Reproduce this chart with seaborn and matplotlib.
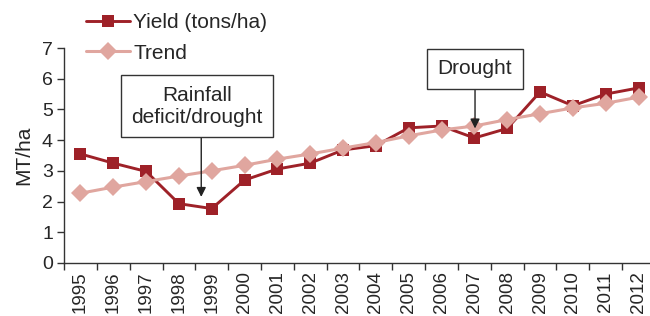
import matplotlib
matplotlib.use("Agg")
import matplotlib.pyplot as plt
import numpy as np
import pandas as pd
import seaborn as sns

years = [str(y) for y in range(1995, 2013)]
yield_vals = [3.55, 3.25, 2.98, 1.93, 1.77, 2.70, 3.06, 3.25, 3.68, 3.82,
              4.40, 4.46, 4.07, 4.38, 5.57, 5.12, 5.50, 5.70]
trend_vals = [2.27, 2.47, 2.65, 2.83, 3.00, 3.18, 3.38, 3.55, 3.74, 3.92,
              4.14, 4.33, 4.46, 4.67, 4.86, 5.05, 5.20, 5.40]

yield_color = "#9e2128"
trend_color = "#e0a69f"

df = pd.DataFrame({"idx": np.arange(len(years)), "year": years,
                   "Yield (tons/ha)": yield_vals, "Trend": trend_vals})

sns.set_style("ticks")
plt.rcParams["font.family"] = ["Liberation Sans", "DejaVu Sans"]

fig = plt.figure(figsize=(6.5, 3.16), dpi=100)
ax = fig.add_axes([0.0985, 0.168, 0.9015, 0.68])

# yield first, trend drawn on top of it
sns.lineplot(data=df, x="idx", y="Yield (tons/ha)", ax=ax, color=yield_color, marker="s",
             markersize=9, markeredgewidth=0, linewidth=2.1, label="Yield (tons/ha)", zorder=2)
sns.lineplot(data=df, x="idx", y="Trend", ax=ax, color=trend_color, marker="D",
             markersize=9, markeredgewidth=0, linewidth=2.2, label="Trend", zorder=3)

ax.set_xlim(-0.5, 17.35)
ax.set_ylim(0, 7)
ax.set_yticks(range(0, 8))
ax.set_xticks(np.arange(-0.5, 17.5, 1.0))
ax.set_xticklabels([])
ax.set_xticks(df["idx"], minor=True)
ax.set_xticklabels(years, minor=True, rotation=90)
ax.tick_params(axis="x", which="minor", length=0, labelsize=13.5, pad=6)
ax.tick_params(axis="x", which="major", length=5, width=1, color="#333333")
ax.tick_params(axis="y", labelsize=14, length=5, width=1, color="#333333", pad=3)
ax.set_xlabel("")
ax.set_ylabel("MT/ha", fontsize=15, labelpad=6)
for s in ["top", "right"]:
    ax.spines[s].set_visible(False)
for s in ["left", "bottom"]:
    ax.spines[s].set_color("#333333")
    ax.spines[s].set_linewidth(1)

ax.legend(loc="upper left", bbox_to_anchor=(0.12, 0.985),
          bbox_transform=fig.transFigure, frameon=False, fontsize=15,
          handlelength=2.1, handletextpad=0.15, labelspacing=0.55, borderaxespad=0)

box = dict(boxstyle="square,pad=0.5", fc="white", ec="#333333", lw=1)
arrow = dict(arrowstyle="-|>", color="#222222", lw=1, mutation_scale=14, shrinkA=0, shrinkB=0)
ax.annotate("Rainfall\ndeficit/drought", xy=(3.68, 2.15), xytext=(3.56, 5.1),
            ha="center", va="center", fontsize=15, bbox=box,
            arrowprops=dict(arrow, relpos=(0.53, 0)))
ax.annotate("Drought", xy=(12.02, 4.38), xytext=(12.02, 6.32),
            ha="center", va="center", fontsize=15, bbox=box, arrowprops=arrow)

fig.savefig("out.png", dpi=100)
